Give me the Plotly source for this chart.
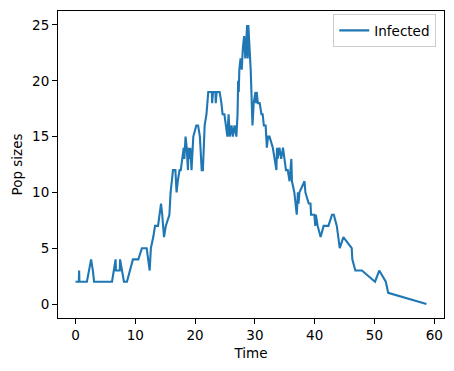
import plotly.graph_objects as go

time = [0, 0.55, 0.6, 0.65, 1.9, 2.2, 2.6, 2.9, 3.1, 6.1, 6.4, 6.7, 6.75, 7.4, 7.45, 7.8, 8.1, 8.6,
        9.1, 9.6, 10.5, 11.1, 11.9, 12.2, 12.4, 12.5, 12.6, 13.0, 13.3, 13.8, 14.1, 14.3, 14.5, 14.8,
        15.1, 15.7, 15.9, 16.05, 16.3, 16.7, 16.9, 17.1, 17.4, 17.6, 17.9, 18.1, 18.2, 18.3, 18.4,
        18.6, 18.7, 18.8, 18.9, 19.1, 19.2, 19.4, 19.7, 20.2, 20.5, 20.8, 21.1, 21.3, 21.6, 21.9,
        22.2, 22.8, 22.85, 23.0, 23.4, 23.45, 23.6, 24.1, 24.4, 24.6, 24.9, 25.1, 25.4, 25.6, 25.8,
        26.1, 26.3, 26.6, 26.9, 27.1, 27.2, 27.3, 27.4, 27.6, 27.8, 28.0, 28.2, 28.4, 28.6, 28.7,
        28.8, 28.85, 28.9, 29.3, 29.6, 29.8, 30.1, 30.2, 30.3, 30.5, 30.8, 31.1, 31.3, 31.5, 31.8,
        32.0, 32.2, 32.45, 33.0, 33.3, 33.6, 33.7, 33.8, 34.1, 34.4, 34.7, 35.0, 35.2, 35.5, 35.8,
        36.1, 36.2, 36.6, 37.0, 37.2, 37.3, 37.45, 38.3, 38.45, 39.0, 39.3, 39.4, 39.95, 40.1, 40.2,
        40.5, 41.0, 41.5, 42.3, 42.9, 43.2, 43.7, 44.2, 44.8, 46.2, 46.3, 46.8, 47.9, 50.1, 50.8,
        51.9, 52.3, 58.7]
infected = [2, 2, 3, 2, 2, 3, 4, 3, 2, 2, 3, 4, 3, 3, 4, 3, 2, 2,
            3, 4, 4, 5, 5, 4, 3, 4, 5, 6, 7, 7, 8, 9, 8, 6,
            7, 8, 10, 11, 12, 12, 10, 11, 12, 12, 13, 14, 13, 14, 15,
            14, 13, 12, 14, 13, 14, 12, 15, 16, 16, 15, 12, 12, 16, 17,
            19, 19, 18, 19, 19, 18, 19, 19, 18, 17, 17, 16, 15, 17, 15,
            16, 15, 16, 15, 17, 20, 19, 21, 22, 21, 23, 24, 22, 24, 25,
            22, 25, 25, 21, 16, 18, 19, 18, 19, 18, 18, 17, 17, 16, 16,
            14, 15, 15, 14, 13, 12, 14, 13, 14, 13, 14, 13, 12, 12, 11,
            13, 11, 10, 8, 10, 9, 10, 11, 10, 9, 9, 8, 8, 7, 8,
            7, 6, 7, 7, 8, 8, 7, 5, 6, 5, 4, 3, 3, 2, 3,
            2, 1, 0]

x_ticks = [0, 10, 20, 30, 40, 50, 60]
y_ticks = [0, 5, 10, 15, 20, 25]

FONT = "DejaVu Sans"
FS = 13.5

fig = go.Figure()
fig.add_trace(go.Scatter(x=time, y=infected, mode="lines", name="Infected",
                         line=dict(color="#1f77b4", width=2.1)))

axis_common = dict(showline=True, linecolor="black", linewidth=1, mirror=True,
                   ticks="outside", ticklen=5, tickcolor="black", tickwidth=1,
                   showgrid=False, zeroline=False, automargin=False,
                   tickfont=dict(family=FONT, size=FS, color="black"))

xmin, xmax = 0, 58.7
xpad = (xmax - xmin) * 0.05
fig.update_xaxes(range=[xmin - xpad, xmax + xpad], tickvals=x_ticks,
                 title=dict(text="Time", font=dict(family=FONT, size=FS, color="black"), standoff=6),
                 **axis_common)
fig.update_yaxes(range=[-1.25, 26.25], tickvals=y_ticks,
                 title=dict(text="Pop sizes", font=dict(family=FONT, size=FS, color="black"), standoff=6),
                 **axis_common)

fig.update_layout(
    width=454, height=371,
    margin=dict(l=58, r=10, t=11, b=53, autoexpand=False),
    paper_bgcolor="white", plot_bgcolor="white",
    font=dict(family=FONT, size=FS, color="black"),
    showlegend=True,
    legend=dict(x=0.98, y=0.99, xanchor="right", yanchor="top",
                bgcolor="rgba(255,255,255,0.8)", bordercolor="#cccccc", borderwidth=1,
                font=dict(family=FONT, size=FS, color="black")),
)

fig.write_html("out.html", config={"displayModeBar": False},
               post_script="document.body.style.margin='0';document.body.style.padding='0';")
